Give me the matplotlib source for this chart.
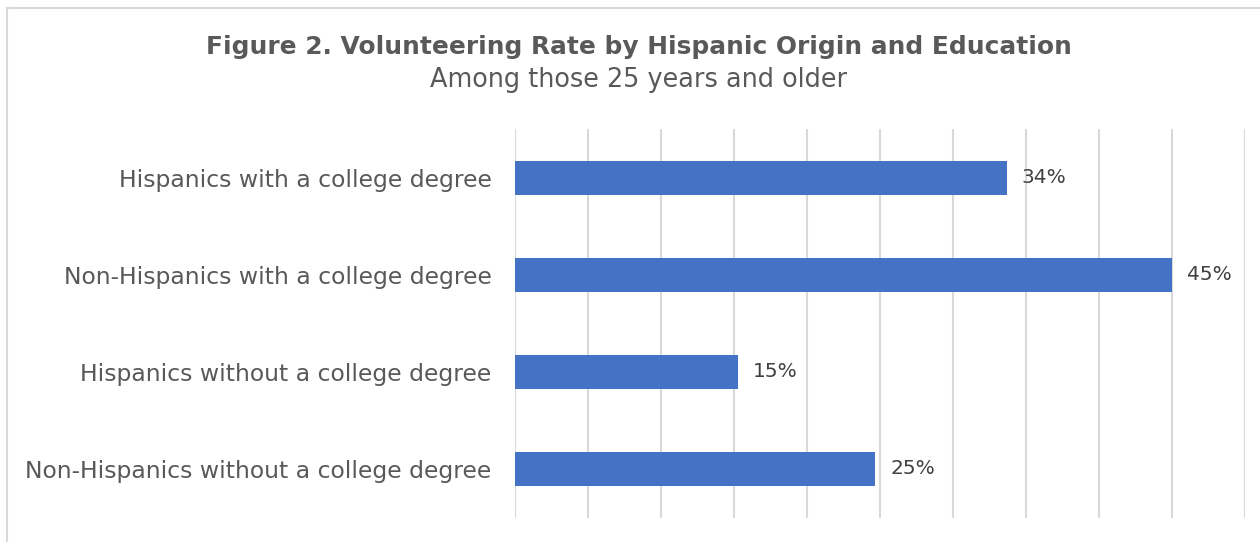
import numpy as np
import matplotlib.pyplot as plt
from matplotlib.lines import Line2D

# data, top to bottom
groups = [
    'Hispanics with a college degree',
    'Non-Hispanics with a college degree',
    'Hispanics without a college degree',
    'Non-Hispanics without a college degree',
]
rates = [33.7, 45.0, 15.3, 24.7]

title = 'Figure 2. Volunteering Rate by Hispanic Origin and Education'
subtitle = 'Among those 25 years and older'

bar_color = '#4472C4'
grid_color = '#d9d9d9'
text_color = '#595959'

plt.rcParams['font.family'] = ['DejaVu Sans']

fig = plt.figure(figsize=(12.6, 5.42), dpi=100)
ax = fig.add_axes([0.4084, 0.0452, 0.5797, 0.716])

y = np.arange(len(groups))
ax.barh(y, rates, height=0.35, color=bar_color, zorder=3)
ax.set_ylim(len(groups) - 0.5, -0.5)
ax.set_xlim(0, 50)
ax.set_xticks(np.arange(0, 51, 5))
ax.set_xticklabels([])
ax.tick_params(axis='x', length=0)
ax.tick_params(axis='y', length=0, pad=16.5)
ax.set_yticks(y)
ax.set_yticklabels(groups, fontsize=16.9, color=text_color)
ax.grid(axis='x', color=grid_color, linewidth=1.5, zorder=0)
for s in ax.spines.values():
    s.set_visible(False)

for yi, r in zip(y, rates):
    ax.text(r + 1.0, yi, f'{r:.0f}%', va='center', ha='left',
            fontsize=14.5, color='#404040')

fig.text(0.507, 0.913, title, ha='center', va='center',
         fontsize=17.9, fontweight='bold', color=text_color)
fig.text(0.507, 0.852, subtitle, ha='center', va='center',
         fontsize=18.4, color=text_color)

# light frame around the chart area
fig.add_artist(Line2D([0.0056, 1.0], [0.985, 0.985], transform=fig.transFigure,
                      color=grid_color, linewidth=1.5))
fig.add_artist(Line2D([0.0056, 0.0056], [0.0, 0.985], transform=fig.transFigure,
                      color=grid_color, linewidth=1.5))

fig.savefig('out.png', dpi=100)
plt.close(fig)
